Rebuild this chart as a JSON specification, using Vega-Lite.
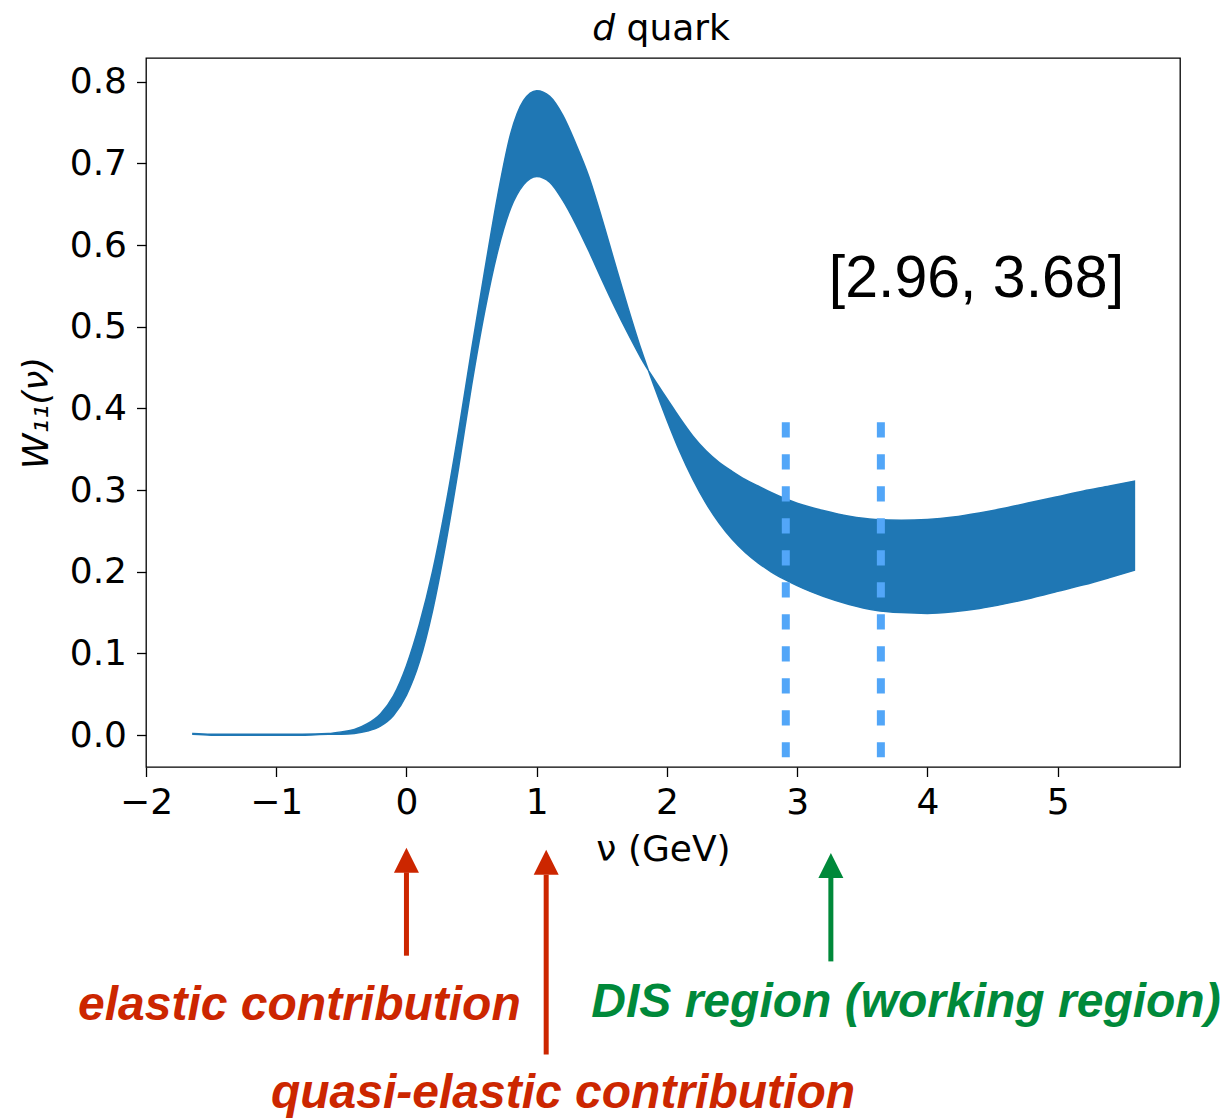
{
  "$schema": "https://vega.github.io/schema/vega-lite/v6.json",
  "width": 1034,
  "height": 709,
  "autosize": {"type": "none"},
  "padding": {"left": 146, "top": 58, "right": 42, "bottom": 352},
  "background": "white",
  "datasets": {
    "band": [
      {"nu": -1.64, "a": 0.002, "b": 0.001},
      {"nu": -1.5, "a": 0.001, "b": 0.0},
      {"nu": -1.2, "a": 0.001, "b": 0.0},
      {"nu": -1.0, "a": 0.001, "b": 0.0},
      {"nu": -0.8, "a": 0.001, "b": 0.0},
      {"nu": -0.6, "a": 0.002, "b": 0.001},
      {"nu": -0.5, "a": 0.004, "b": 0.001},
      {"nu": -0.4, "a": 0.007, "b": 0.002},
      {"nu": -0.3, "a": 0.014, "b": 0.005},
      {"nu": -0.2, "a": 0.026, "b": 0.011},
      {"nu": -0.1, "a": 0.048, "b": 0.024},
      {"nu": 0.0, "a": 0.085, "b": 0.049},
      {"nu": 0.1, "a": 0.136, "b": 0.09},
      {"nu": 0.2, "a": 0.2, "b": 0.152},
      {"nu": 0.3, "a": 0.28, "b": 0.233},
      {"nu": 0.4, "a": 0.372, "b": 0.327},
      {"nu": 0.5, "a": 0.472, "b": 0.428},
      {"nu": 0.6, "a": 0.568, "b": 0.518},
      {"nu": 0.7, "a": 0.66, "b": 0.592},
      {"nu": 0.8, "a": 0.736, "b": 0.645},
      {"nu": 0.9, "a": 0.777, "b": 0.674},
      {"nu": 1.0, "a": 0.789, "b": 0.684},
      {"nu": 1.1, "a": 0.782, "b": 0.677},
      {"nu": 1.2, "a": 0.759, "b": 0.655},
      {"nu": 1.3, "a": 0.724, "b": 0.626},
      {"nu": 1.4, "a": 0.684, "b": 0.593},
      {"nu": 1.5, "a": 0.633, "b": 0.558},
      {"nu": 1.6, "a": 0.578, "b": 0.524},
      {"nu": 1.7, "a": 0.524, "b": 0.492},
      {"nu": 1.8, "a": 0.473, "b": 0.462},
      {"nu": 1.9, "a": 0.428, "b": 0.436},
      {"nu": 2.0, "a": 0.386, "b": 0.412},
      {"nu": 2.1, "a": 0.347, "b": 0.388},
      {"nu": 2.2, "a": 0.313, "b": 0.366},
      {"nu": 2.3, "a": 0.284, "b": 0.348},
      {"nu": 2.4, "a": 0.26, "b": 0.334},
      {"nu": 2.5, "a": 0.24, "b": 0.323},
      {"nu": 2.6, "a": 0.224, "b": 0.313},
      {"nu": 2.7, "a": 0.211, "b": 0.305},
      {"nu": 2.8, "a": 0.2, "b": 0.297},
      {"nu": 2.9, "a": 0.191, "b": 0.29},
      {"nu": 3.0, "a": 0.183, "b": 0.284},
      {"nu": 3.2, "a": 0.17, "b": 0.275},
      {"nu": 3.4, "a": 0.16, "b": 0.268},
      {"nu": 3.6, "a": 0.153, "b": 0.264},
      {"nu": 3.8, "a": 0.15, "b": 0.263},
      {"nu": 4.0, "a": 0.149, "b": 0.264},
      {"nu": 4.2, "a": 0.151, "b": 0.267},
      {"nu": 4.4, "a": 0.155, "b": 0.272},
      {"nu": 4.6, "a": 0.161, "b": 0.278},
      {"nu": 4.8, "a": 0.168, "b": 0.285},
      {"nu": 5.0, "a": 0.176, "b": 0.292},
      {"nu": 5.2, "a": 0.184, "b": 0.299},
      {"nu": 5.4, "a": 0.193, "b": 0.305},
      {"nu": 5.59, "a": 0.202, "b": 0.311}
    ],
    "window": [
      {"nu": 2.913, "w0": 0.383, "w1": -0.027},
      {"nu": 3.643, "w0": 0.383, "w1": -0.027}
    ],
    "arrows": [
      {"kind": "elastic", "nu": 0.0, "tip": -0.138, "base": -0.168, "end": -0.27},
      {"kind": "quasi-elastic", "nu": 1.073, "tip": -0.1403, "base": -0.171, "end": -0.391},
      {"kind": "DIS", "nu": 3.259, "tip": -0.1443, "base": -0.1749, "end": -0.277}
    ],
    "notes": [
      {"kind": "elastic", "text": "elastic contribution", "nu": -0.822, "w": -0.3483},
      {"kind": "quasi-elastic", "text": "quasi-elastic contribution", "nu": 1.202, "w": -0.456},
      {"kind": "DIS", "text": "DIS region (working region)", "nu": 3.836, "w": -0.3446}
    ]
  },
  "config": {
    "view": {"stroke": "black", "strokeWidth": 1.3},
    "axis": {
      "grid": false,
      "domain": false,
      "ticks": true,
      "tickSize": 9.5,
      "tickWidth": 1.3,
      "tickColor": "black",
      "labelFont": "DejaVu Sans",
      "labelFontSize": 36,
      "labelColor": "black",
      "labelFlush": false,
      "labelOverlap": false,
      "titleFont": "DejaVu Sans",
      "titleFontSize": 36,
      "titleFontWeight": "normal",
      "titleColor": "black"
    }
  },
  "layer": [
    {
      "data": {"name": "band"},
      "mark": {"type": "area", "color": "#1f77b4", "stroke": "#1f77b4", "strokeWidth": 1.5, "interpolate": "monotone"},
      "encoding": {
        "x": {"field": "nu", "type": "quantitative", "scale": {"domain": [-2, 5.94], "nice": false, "zero": false},
              "axis": {"values": [-2, -1, 0, 1, 2, 3, 4, 5], "format": "d", "labelPadding": 9, "titlePadding": 12, "title": "ν (GeV)"}},
        "y": {"field": "a", "type": "quantitative", "scale": {"domain": [-0.039, 0.829], "nice": false, "zero": false},
              "axis": {"values": [0, 0.1, 0.2, 0.3, 0.4, 0.5, 0.6, 0.7, 0.8], "format": ".1f", "labelPadding": 10, "titlePadding": 14, "title": "W₁₁(ν)", "titleFontStyle": "italic"}},
        "y2": {"field": "b"}
      }
    },
    {
      "data": {"name": "window"},
      "mark": {"type": "rule", "color": "#52a6f8", "strokeWidth": 8, "strokeDash": [15.3, 16.7]},
      "encoding": {
        "x": {"field": "nu", "type": "quantitative", "scale": {"domain": [-2, 5.94], "nice": false, "zero": false}, "title": "ν (GeV)"},
        "y": {"field": "w0", "type": "quantitative", "scale": {"domain": [-0.039, 0.829], "nice": false, "zero": false}, "title": "W₁₁(ν)"},
        "y2": {"field": "w1"}
      }
    },
    {
      "data": {"values": [{"text": "[2.96, 3.68]", "nu": 4.377, "w": 0.5365}]},
      "mark": {"type": "text", "font": "Liberation Sans", "fontSize": 59, "align": "center", "baseline": "alphabetic", "color": "black"},
      "encoding": {
        "x": {"field": "nu", "type": "quantitative", "title": "ν (GeV)"},
        "y": {"field": "w", "type": "quantitative", "title": "W₁₁(ν)"},
        "text": {"field": "text"}
      }
    },
    {
      "data": {"values": [{"text": "d", "nu": 1.426, "w": 0.8505}]},
      "mark": {"type": "text", "font": "DejaVu Sans", "fontSize": 36, "fontStyle": "italic", "align": "left", "baseline": "alphabetic", "color": "black"},
      "encoding": {
        "x": {"field": "nu", "type": "quantitative", "title": "ν (GeV)"},
        "y": {"field": "w", "type": "quantitative", "title": "W₁₁(ν)"},
        "text": {"field": "text"}
      }
    },
    {
      "data": {"values": [{"text": "quark", "nu": 1.69, "w": 0.8505}]},
      "mark": {"type": "text", "font": "DejaVu Sans", "fontSize": 36, "align": "left", "baseline": "alphabetic", "color": "black"},
      "encoding": {
        "x": {"field": "nu", "type": "quantitative", "title": "ν (GeV)"},
        "y": {"field": "w", "type": "quantitative", "title": "W₁₁(ν)"},
        "text": {"field": "text"}
      }
    },
    {
      "data": {"name": "arrows"},
      "mark": {"type": "rule", "strokeWidth": 5},
      "encoding": {
        "x": {"field": "nu", "type": "quantitative", "title": "ν (GeV)"},
        "y": {"field": "base", "type": "quantitative", "title": "W₁₁(ν)"},
        "y2": {"field": "end"},
        "color": {"field": "kind", "type": "nominal", "scale": {"domain": ["elastic", "quasi-elastic", "DIS"], "range": ["#cc2600", "#cc2600", "#00893a"]}, "legend": null}
      }
    },
    {
      "data": {"name": "arrows"},
      "mark": {"type": "point", "filled": true, "opacity": 1, "size": 625, "shape": "M0,0L1,2L-1,2Z"},
      "encoding": {
        "x": {"field": "nu", "type": "quantitative", "title": "ν (GeV)"},
        "y": {"field": "tip", "type": "quantitative", "title": "W₁₁(ν)"},
        "color": {"field": "kind", "type": "nominal", "scale": {"domain": ["elastic", "quasi-elastic", "DIS"], "range": ["#cc2600", "#cc2600", "#00893a"]}, "legend": null}
      }
    },
    {
      "data": {"name": "notes"},
      "mark": {"type": "text", "font": "Liberation Sans", "fontSize": 48, "fontWeight": "bold", "fontStyle": "italic", "align": "center", "baseline": "alphabetic"},
      "encoding": {
        "x": {"field": "nu", "type": "quantitative", "title": "ν (GeV)"},
        "y": {"field": "w", "type": "quantitative", "title": "W₁₁(ν)"},
        "text": {"field": "text"},
        "color": {"field": "kind", "type": "nominal", "scale": {"domain": ["elastic", "quasi-elastic", "DIS"], "range": ["#cc2600", "#cc2600", "#00893a"]}, "legend": null}
      }
    }
  ]
}
